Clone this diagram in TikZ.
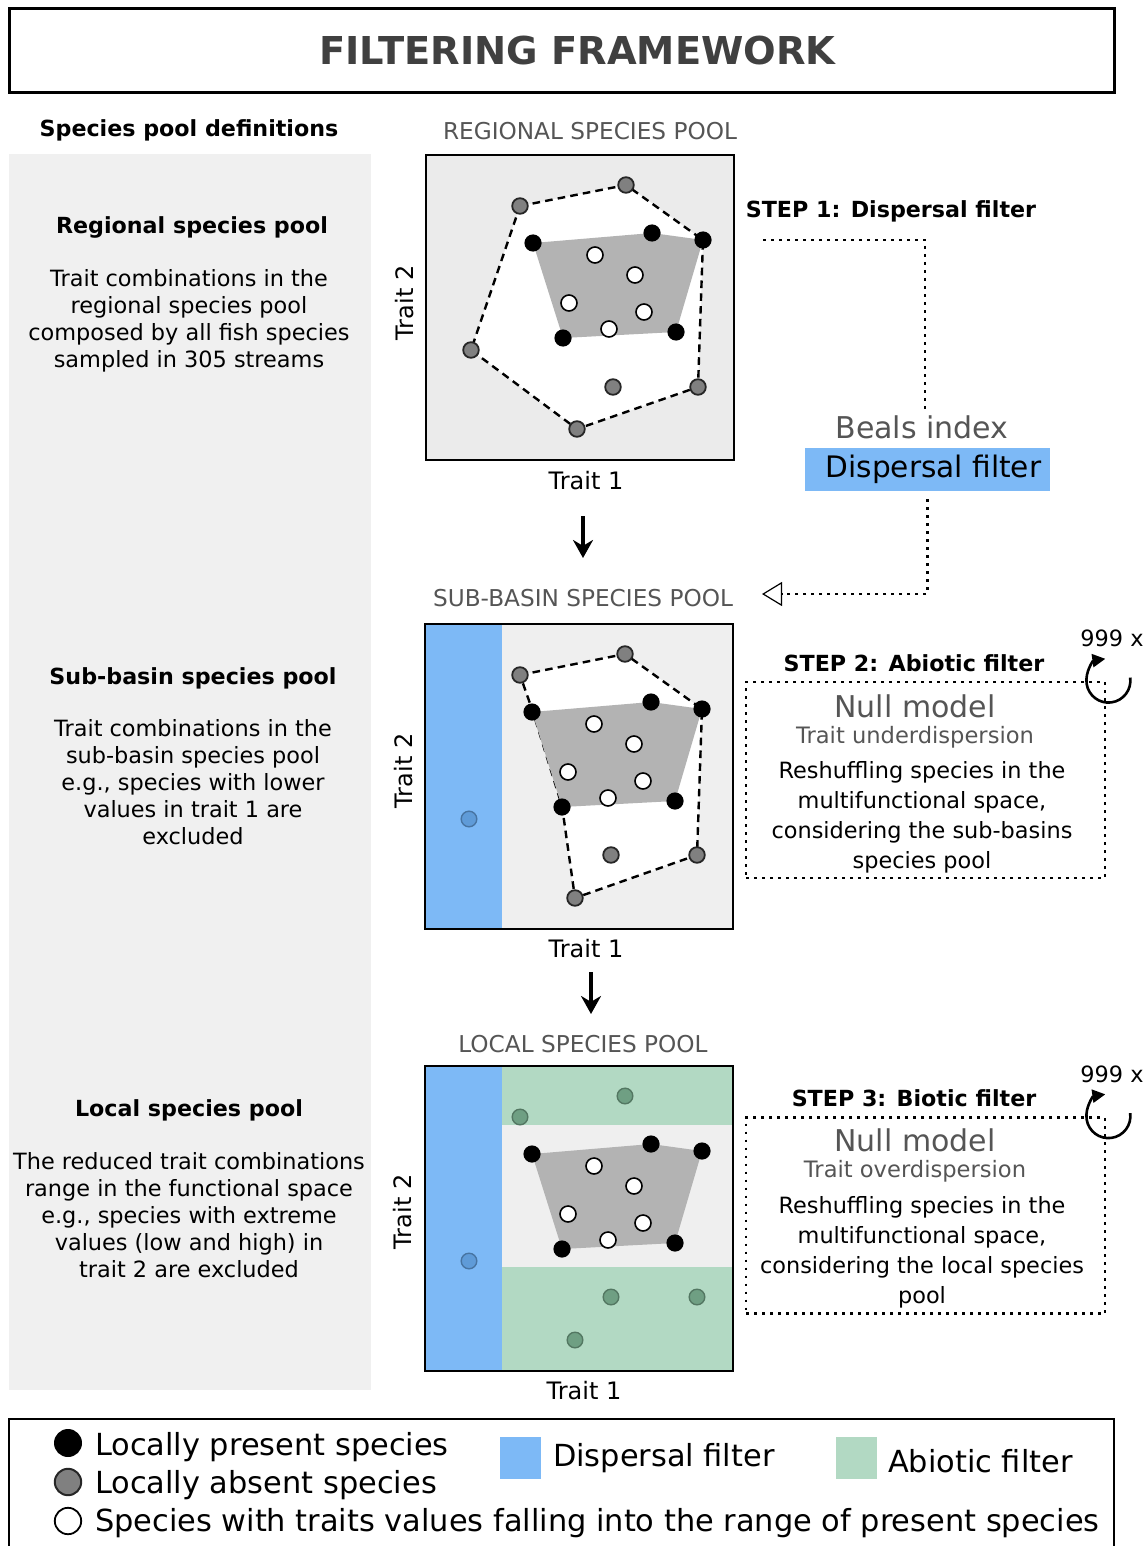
\documentclass[tikz,border=0pt]{standalone}
\usepackage{fontspec}
\setmainfont{DejaVu Sans}
\usetikzlibrary{arrows.meta}

\definecolor{panelgray}{HTML}{F0F0F0}
\definecolor{plotbg}{HTML}{EBEBEB}
\definecolor{plotbgtwo}{HTML}{EFEFEF}
\definecolor{hullgray}{HTML}{B3B3B3}
\definecolor{ptgray}{HTML}{808080}
\definecolor{filterblue}{HTML}{7DB9F6}
\definecolor{filtergreen}{HTML}{B2D9C3}
\definecolor{greenpt}{HTML}{6F9F83}
\definecolor{bluept}{HTML}{5F9BD8}
\definecolor{titlegray}{HTML}{404040}
\definecolor{labelgray}{HTML}{555555}

\tikzset{
  pooltitle/.style={font=\fontsize{11.6}{14}\selectfont, text=labelgray},
  axislabel/.style={font=\fontsize{12}{14}\selectfont},
  deftitle/.style={font=\bfseries\fontsize{11.1}{13}\selectfont},
  deftext/.style={font=\fontsize{11.2}{13.5}\selectfont, align=center},
  steptitle/.style={font=\bfseries\fontsize{11.1}{13}\selectfont},
  nulltitle/.style={font=\fontsize{15}{17}\selectfont, text=labelgray},
  nullsub/.style={font=\fontsize{11.3}{13}\selectfont, text=labelgray},
  steptext/.style={font=\fontsize{11.2}{15}\selectfont, align=center},
  dotline/.style={line width=1.4pt, dash pattern=on 1.4pt off 2.6pt},
  stepbox/.style={draw, dotline, minimum width=179.5pt, minimum height=98pt},
  hullline/.style={line width=1.2pt, dash pattern=on 3.8pt off 2.6pt},
  flowarrow/.style={line width=1.8pt, -{Stealth[length=9pt,width=10pt]}},
  looparrow/.style={line width=1.3pt, -{Triangle[length=6.5pt,width=6.5pt]}},
  whitept/.style={fill=white, draw=black, line width=0.8pt},
  graypt/.style={fill=ptgray, draw=black!85, line width=0.9pt},
  greenpoint/.style={fill=greenpt, draw=greenpt!75!black, line width=0.7pt},
  bluepoint/.style={fill=bluept, draw=bluept!75!black, line width=0.7pt},
  legendtext/.style={anchor=west, font=\fontsize{15.2}{17}\selectfont}
}

% gray range of present species, with its points
\newcommand{\drawcore}{%
  \fill[hullgray] (107,88) -- (226,78) -- (277,85) -- (250,177) -- (137,183) -- cycle;
  \foreach \x/\y in {107/88, 226/78, 277/85, 250/177, 137/183}
    \fill (\x,\y) circle (4.3pt);
  \foreach \x/\y in {169/100, 209/120, 143/148, 218/157, 183/174}
    \draw[whitept] (\x,\y) circle (4pt);
}

\begin{document}
\begin{tikzpicture}[x=0.5pt, y=-0.5pt]
  \useasboundingbox (0,0) rectangle (1146,1546);

  % title
  \node[draw, line width=1.5pt, minimum width=552.5pt, minimum height=42pt,
        text=titlegray, font=\bfseries\fontsize{19.2}{22}\selectfont] (title) at (561.5,51) {\hspace{16pt}FILTERING FRAMEWORK};

  % left column with definitions
  \fill[panelgray] (9,154) rectangle (371,1390);
  \node[deftitle] (defhead) at (189,130) {Species pool definitions};
  \node[deftitle] (regname) at (192,227) {Regional species pool};
  \node[deftext] (regdef) at (189,321) {Trait combinations in the\\regional species pool\\composed by all fish species\\sampled in 305 streams};
  \node[deftitle] (subname) at (193,678) {Sub-basin species pool};
  \node[deftext] (subdef) at (193,782) {Trait combinations in the\\sub-basin species pool\\e.g., species with lower\\values in trait 1 are\\excluded};
  \node[deftitle] (locname) at (189,1110) {Local species pool};
  \node[deftext] (locdef) at (189,1215) {The reduced trait combinations\\range in the functional space\\e.g., species with extreme\\values (low and high) in\\trait 2 are excluded};

  % regional species pool
  \node[pooltitle] (regtitle) at (590,131) {REGIONAL SPECIES POOL};
  \fill[plotbg] (426,155) rectangle (734,460);
  \begin{scope}[shift={(426,155)}]
    \filldraw[fill=white, hullline] (94,51) -- (200,30) -- (277,85) -- (272,232) -- (151,274) -- (45,195) -- cycle;
    \drawcore
    \foreach \x/\y in {94/51, 200/30, 272/232, 151/274, 45/195, 187/232}
      \draw[graypt] (\x,\y) circle (3.9pt);
  \end{scope}
  \draw[line width=1pt] (426,155) rectangle (734,460);
  \node[axislabel] (regx) at (586,481) {Trait 1};
  \node[axislabel, rotate=90] (regy) at (405,303) {Trait 2};

  % arrow to sub-basin pool
  \coordinate (flowa) at (583,516);
  \coordinate (flowb) at (583,558);
  \draw[flowarrow] (flowa) -- (flowb);

  % sub-basin species pool
  \node[pooltitle] (subtitle) at (583,598) {SUB-BASIN SPECIES POOL};
  \fill[plotbgtwo] (425,624) rectangle (733,929);
  \fill[filterblue] (425,624) rectangle (502,929);
  \begin{scope}[shift={(425,624)}]
    \filldraw[fill=white, hullline] (95,51) -- (200,30) -- (277,85) -- (272,231) -- (150,274) -- (137,182) -- (108,88) -- cycle;
    \drawcore
    \foreach \x/\y in {95/51, 200/30, 272/231, 150/274, 186/231}
      \draw[graypt] (\x,\y) circle (3.9pt);
    \draw[bluepoint] (44,195) circle (3.9pt);
  \end{scope}
  \draw[line width=1pt] (425,624) rectangle (733,929);
  \node[axislabel] (subx) at (586,949) {Trait 1};
  \node[axislabel, rotate=90] (suby) at (404,771) {Trait 2};

  % arrow to local pool
  \coordinate (flowc) at (591,972);
  \coordinate (flowd) at (591,1014);
  \draw[flowarrow] (flowc) -- (flowd);

  % local species pool
  \node[pooltitle] (loctitle) at (583,1044) {LOCAL SPECIES POOL};
  \fill[filtergreen] (502,1066) rectangle (733,1125);
  \fill[plotbgtwo] (502,1125) rectangle (733,1267);
  \fill[filtergreen] (502,1267) rectangle (733,1371);
  \fill[filterblue] (425,1066) rectangle (502,1371);
  \begin{scope}[shift={(425,1066)}]
    \drawcore
    \foreach \x/\y in {95/51, 200/30, 272/231, 150/274, 186/231}
      \draw[greenpoint] (\x,\y) circle (3.9pt);
    \draw[bluepoint] (44,195) circle (3.9pt);
  \end{scope}
  \draw[line width=1pt] (425,1066) rectangle (733,1371);
  \node[axislabel] (locx) at (584,1391) {Trait 1};
  \node[axislabel, rotate=90] (locy) at (403,1212) {Trait 2};

  % step 1
  \node[steptitle] (step1) at (891,211) {STEP 1: Dispersal filter};
  \node[nulltitle] (beals) at (922,427) {Beals index};
  \node[fill=filterblue, minimum width=122.5pt, minimum height=21.5pt,
        font=\fontsize{14.8}{17}\selectfont] (dispbox) at (927.5,469.5) {\hspace{6pt}\raisebox{-2pt}{Dispersal filter}};
  \coordinate (stepa) at (763,240);
  \coordinate (stepb) at (762,594);
  \draw[dotline] (stepa) -| ([xshift=1.5pt, yshift=-2pt]beals.north);
  \draw[dotline, -{Triangle[open, length=10pt, width=12pt, line width=0.6pt]}] ([yshift=-4pt]dispbox.south) |- (stepb);

  % step 2
  \node[steptitle] (step2) at (914,663) {STEP 2: Abiotic filter};
  \node[stepbox] (box2) at (925.5,780) {};
  \node[nulltitle] (null2) at (915,706) {Null model};
  \node[nullsub] (under) at (915,737) {Trait underdispersion};
  \node[steptext] (text2) at (922,817) {Reshuffling species in the\\multifunctional space,\\considering the sub-basins\\species pool};
  \draw[looparrow] ([xshift=1pt]box2.north east) ++(8:11pt) arc[start angle=8, end angle=-262, radius=11pt];
  \node[steptext] (rep2) at (1112,638) {999 x};

  % step 3
  \node[steptitle] (step3) at (914,1098) {STEP 3: Biotic filter};
  \node[stepbox] (box3) at (925.5,1215.5) {};
  \node[nulltitle] (null3) at (915,1140) {Null model};
  \node[nullsub] (over) at (915,1171) {Trait overdispersion};
  \node[steptext] (text3) at (922,1252) {Reshuffling species in the\\multifunctional space,\\considering the local species\\pool};
  \draw[looparrow] ([xshift=1pt]box3.north east) ++(8:11pt) arc[start angle=8, end angle=-262, radius=11pt];
  \node[steptext] (rep3) at (1112,1074) {999 x};

  % legend
  \draw[line width=1.2pt] (9,1550) -- (9,1419) -- (1114,1419) -- (1114,1550);
  \fill (68,1443) circle (7pt);
  \draw[graypt, line width=1pt] (68,1482) circle (6.6pt);
  \draw[whitept, line width=0.9pt] (68,1521) circle (6.6pt);
  \node[legendtext] (present) at (88,1447) {Locally present species};
  \node[legendtext] (absent) at (88,1485) {Locally absent species};
  \node[legendtext] (inrange) at (88,1523) {Species with traits values falling into the range of present species};
  \fill[filterblue] (500,1437) rectangle (541,1479);
  \node[legendtext] (legdisp) at (546,1458) {Dispersal filter};
  \fill[filtergreen] (836,1437) rectangle (877,1479);
  \node[legendtext] (legabio) at (881,1461) {Abiotic filter};
\end{tikzpicture}
\end{document}
